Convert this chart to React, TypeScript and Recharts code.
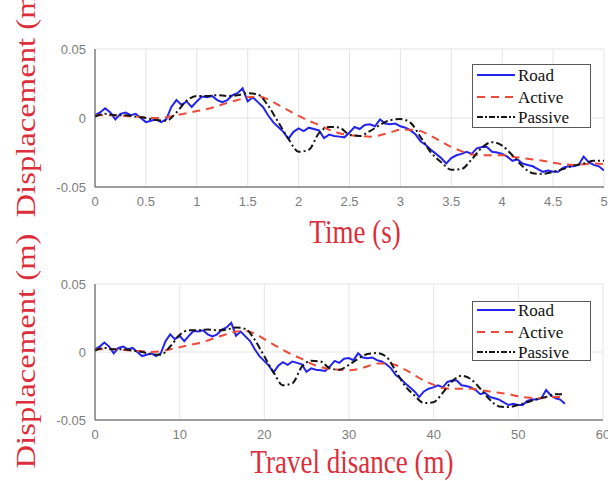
import React from "react";
import { LineChart, Line, XAxis, YAxis, CartesianGrid } from "recharts";

// ---------- tick labels ----------
const timeTicks = [0, 0.5, 1, 1.5, 2, 2.5, 3, 3.5, 4, 4.5, 5];
const distanceTicks = [0, 10, 20, 30, 40, 50, 60];
const dispTicks = [-0.05, 0, 0.05];

// ---------- series ----------
const roadTime = [
  0, 0.05, 0.1, 0.15, 0.2, 0.25, 0.3, 0.35, 0.4, 0.45, 0.5, 0.55, 0.6, 0.65, 0.7, 0.75, 0.8, 0.85, 0.9, 0.95,
  1, 1.05, 1.1, 1.15, 1.2, 1.25, 1.3, 1.35, 1.4, 1.45, 1.5, 1.55, 1.6, 1.65, 1.7, 1.75, 1.8, 1.85, 1.9, 1.95,
  2, 2.05, 2.1, 2.15, 2.2, 2.25, 2.3, 2.35, 2.4, 2.45, 2.5, 2.55, 2.6, 2.65, 2.7, 2.75, 2.8, 2.85, 2.9, 2.95,
  3, 3.05, 3.1, 3.15, 3.2, 3.25, 3.3, 3.35, 3.4, 3.45, 3.5, 3.55, 3.6, 3.65, 3.7, 3.75, 3.8, 3.85, 3.9, 3.95,
  4, 4.05, 4.1, 4.15, 4.2, 4.25, 4.3, 4.35, 4.4, 4.45, 4.5, 4.55, 4.6, 4.65, 4.7, 4.75, 4.8, 4.85, 4.9, 4.95, 5,
];
const roadDisp = [
  0.002, 0.004, 0.007, 0.004, -0.001, 0.003, 0.004, 0.002, 0.003, 0.0, -0.003, -0.002, -0.001, -0.003, -0.001, 0.008, 0.013, 0.0095, 0.012, 0.008,
  0.012, 0.0155, 0.015, 0.016, 0.013, 0.0115, 0.013, 0.0165, 0.018, 0.0215, 0.012, 0.015, 0.0115, 0.008, 0.002, -0.003, -0.0065, -0.01, -0.015, -0.01,
  -0.0075, -0.0095, -0.007, -0.008, -0.009, -0.0145, -0.012, -0.013, -0.0135, -0.014, -0.0105, -0.0065, -0.008, -0.005, -0.0045, -0.006, -0.001, -0.004, -0.0045, -0.004,
  -0.006, -0.007, -0.009, -0.012, -0.017, -0.0195, -0.023, -0.026, -0.029, -0.033, -0.029, -0.027, -0.026, -0.0245, -0.026, -0.022, -0.021, -0.021, -0.0245, -0.025,
  -0.026, -0.028, -0.031, -0.03, -0.033, -0.034, -0.035, -0.037, -0.039, -0.038, -0.039, -0.039, -0.036, -0.035, -0.035, -0.034, -0.028, -0.032, -0.034, -0.035, -0.038,
];

const activeTime = [
  0, 0.1, 0.2, 0.3, 0.4, 0.5, 0.6, 0.7, 0.8, 0.9, 1, 1.1, 1.2, 1.3, 1.4, 1.5, 1.6, 1.7, 1.8, 1.9,
  2, 2.1, 2.2, 2.3, 2.4, 2.5, 2.6, 2.7, 2.8, 2.9, 3, 3.1, 3.2, 3.3, 3.4, 3.5, 3.6, 3.7, 3.8, 3.9,
  4, 4.1, 4.2, 4.3, 4.4, 4.5, 4.6, 4.7, 4.8, 4.9, 5,
];
const activeDisp = [
  0.002, 0.002, 0.002, 0.0015, 0.001, 0.0005, 0.0, 0.0005, 0.002, 0.0035, 0.005, 0.0065, 0.0085, 0.011, 0.013, 0.015, 0.0155, 0.0135, 0.0095, 0.0055,
  0.0015, -0.002, -0.005, -0.0085, -0.011, -0.0125, -0.013, -0.0135, -0.0125, -0.0105, -0.0085, -0.0085, -0.0095, -0.013, -0.017, -0.021, -0.024, -0.0265, -0.027, -0.027,
  -0.027, -0.028, -0.029, -0.03, -0.031, -0.0325, -0.0335, -0.034, -0.0335, -0.033, -0.0335,
];

const passiveTime = activeTime.slice();
const passiveDisp = [
  0.001, 0.003, 0.002, 0.002, 0.001, 0.0, -0.0015, -0.002, 0.004, 0.0125, 0.016, 0.016, 0.0165, 0.016, 0.0165, 0.018, 0.017, 0.009, -0.003, -0.015,
  -0.0245, -0.023, -0.011, -0.0065, -0.007, -0.012, -0.013, -0.0095, -0.005, -0.0015, -0.0008, -0.0035, -0.014, -0.025, -0.032, -0.0375, -0.037, -0.03, -0.0215, -0.0175,
  -0.02, -0.027, -0.035, -0.04, -0.0405, -0.039, -0.037, -0.0345, -0.033, -0.031, -0.031,
];

// vehicle speed (m/s) converting time to travel distance
const SPEED = 11.1;

const RED = "#dc2f3c";
const SERIF = "'Liberation Serif', 'Times New Roman', serif";
const SANS = "'Liberation Sans', Arial, sans-serif";

type Pt = { x: number; y: number };
const toPts = (xs: number[], ys: number[], k = 1): Pt[] =>
  xs.map((x, i) => ({ x: Math.round(x * k * 1000) / 1000, y: ys[i] }));

const tickStyle = { fill: "#7d7d7d", fontSize: 13, fontFamily: SANS };

function Panel(props: {
  top: number;
  height: number;
  marginTop: number;
  marginBottom: number;
  marginRight: number;
  xDomain: [number, number];
  xTicks: number[];
  road: Pt[];
  active: Pt[];
  passive: Pt[];
}) {
  const { top, height, marginTop, marginBottom, marginRight, xDomain, xTicks, road, active, passive } = props;
  return (
    <div style={{ position: "absolute", left: 0, top, width: 608, height }}>
      <LineChart
        width={608}
        height={height}
        margin={{ top: marginTop, right: marginRight, bottom: marginBottom, left: 55 }}
      >
        <CartesianGrid stroke="#e4e4e4" strokeWidth={1} />
        <XAxis
          dataKey="x"
          type="number"
          domain={xDomain}
          ticks={xTicks}
          allowDataOverflow
          height={20}
          tickSize={0}
          tickMargin={10}
          tickLine={false}
          axisLine={{ stroke: "#4a4a4a" }}
          tick={tickStyle}
          interval={0}
        />
        <XAxis
          xAxisId="top"
          orientation="top"
          type="number"
          domain={xDomain}
          height={0}
          tick={false}
          tickLine={false}
          axisLine={{ stroke: "#4a4a4a" }}
        />
        <YAxis
          type="number"
          domain={[-0.05, 0.05]}
          ticks={dispTicks}
          width={40}
          tickSize={0}
          tickMargin={9}
          tickLine={false}
          axisLine={{ stroke: "#4a4a4a" }}
          tick={tickStyle}
          interval={0}
        />
        <YAxis
          yAxisId="right"
          orientation="right"
          type="number"
          domain={[-0.05, 0.05]}
          width={0}
          tick={false}
          tickLine={false}
          axisLine={{ stroke: "#4a4a4a" }}
        />
        <Line data={road} dataKey="y" type="linear" stroke="#2424ee" strokeWidth={2} dot={false} isAnimationActive={false} />
        <Line data={active} dataKey="y" type="monotone" stroke="#ee4a3a" strokeWidth={2} strokeDasharray="8 6" dot={false} isAnimationActive={false} />
        <Line data={passive} dataKey="y" type="monotone" stroke="#151515" strokeWidth={2} strokeDasharray="7 3 2 3" dot={false} isAnimationActive={false} />
      </LineChart>
    </div>
  );
}

function LegendBox(props: { left: number; top: number; height: number; rows: number[] }) {
  const { left, top, height, rows } = props;
  const items = [
    { name: "Road", color: "#2424ee", dash: undefined as string | undefined },
    { name: "Active", color: "#ee4a3a", dash: "8 6" },
    { name: "Passive", color: "#151515", dash: "6 2 2 2" },
  ];
  return (
    <svg style={{ position: "absolute", left, top }} width={119} height={height + 1}>
      <rect x={0.5} y={0.5} width={118} height={height} fill="#fff" stroke="#5a5a5a" strokeWidth={1} />
      {items.map((it, i) => (
        <g key={it.name}>
          <line x1={5} x2={43} y1={rows[i]} y2={rows[i]} stroke={it.color} strokeWidth={2} strokeDasharray={it.dash} />
          <text
            x={46}
            y={rows[i] + 6}
            fontFamily={SERIF}
            fontSize={17}
            fill="#111"
          >
            {it.name}
          </text>
        </g>
      ))}
    </svg>
  );
}

const titleStyle: React.CSSProperties = {
  position: "absolute",
  fontFamily: SERIF,
  fontSize: 27,
  color: RED,
  whiteSpace: "nowrap",
  lineHeight: 1,
};

export default function App() {
  const roadT = toPts(roadTime, roadDisp);
  const activeT = toPts(activeTime, activeDisp);
  const passiveT = toPts(passiveTime, passiveDisp);
  const roadD = toPts(roadTime, roadDisp, SPEED);
  const activeD = toPts(activeTime, activeDisp, SPEED);
  const passiveD = toPts(passiveTime, passiveDisp, SPEED);

  return (
    <div style={{ position: "absolute", left: 0, top: 0, width: 608, height: 481, background: "#fff", overflow: "hidden" }}>
      <Panel
        top={0}
        height={240}
        marginTop={49}
        marginBottom={33}
        marginRight={4}
        xDomain={[0, 5]}
        xTicks={timeTicks}
        road={roadT}
        active={activeT}
        passive={passiveT}
      />
      <Panel
        top={240}
        height={241}
        marginTop={44}
        marginBottom={41}
        marginRight={5}
        xDomain={[0, 60]}
        xTicks={distanceTicks}
        road={roadD}
        active={activeD}
        passive={passiveD}
      />
      <LegendBox left={472} top={64} height={63} rows={[11, 33, 53]} />
      <LegendBox left={472} top={301} height={59} rows={[9, 31, 51]} />

      <div style={{ ...titleStyle, left: 26, top: 100, transform: "translate(-50%, -50%) rotate(-90deg) scaleX(1.21)" }}>
        Displacement (m)
      </div>
      <div style={{ ...titleStyle, left: 26, top: 351, transform: "translate(-50%, -50%) rotate(-90deg) scaleX(1.21)" }}>
        Displacement (m)
      </div>
      <div style={{ ...titleStyle, left: 355, top: 233, transform: "translate(-50%, -50%) scaleY(1.22)" }}>
        Time (s)
      </div>
      <div style={{ ...titleStyle, left: 352, top: 463, transform: "translate(-50%, -50%) scaleY(1.22)" }}>
        Travel disance (m)
      </div>
    </div>
  );
}
